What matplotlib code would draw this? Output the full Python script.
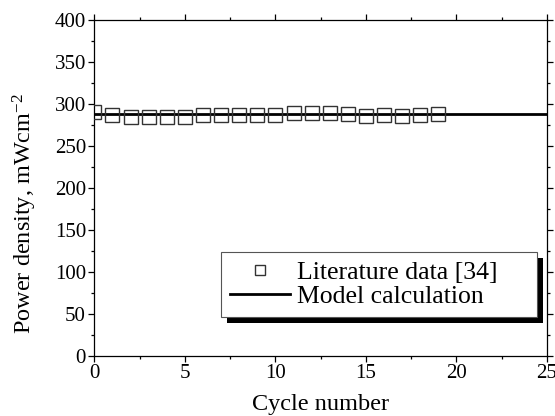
import numpy as np
import matplotlib.pyplot as plt
from matplotlib.patches import Rectangle
from matplotlib.ticker import MultipleLocator

plt.rcParams['font.family'] = ['Liberation Serif', 'DejaVu Serif']
plt.rcParams['mathtext.default'] = 'regular'

cycles = np.arange(0, 20)
lit_power = [290, 287, 285, 284, 285, 284, 287, 287, 287, 287,
             287, 289, 289, 289, 288, 286, 287, 286, 287, 288]
model_x = [0, 25]
model_power = [288, 288]

fig = plt.figure(figsize=(5.55, 4.16), dpi=100)
ax = fig.add_axes([0.170, 0.1442, 0.8156, 0.8078])

ax.plot(cycles, lit_power, ls='none', marker='s', ms=9.5, mfc='none',
        mec='#333333', mew=1.0, label='Literature data [34]', zorder=3)
ax.plot(model_x, model_power, color='black', lw=2.0, label='Model calculation', zorder=2)

ax.set_xlim(0, 25)
ax.set_ylim(0, 400)
ax.xaxis.set_major_locator(MultipleLocator(5))
ax.xaxis.set_minor_locator(MultipleLocator(2.5))
ax.yaxis.set_major_locator(MultipleLocator(50))
ax.yaxis.set_minor_locator(MultipleLocator(25))
ax.tick_params(which='both', direction='out', top=True, right=True,
               labeltop=False, labelright=False, width=0.9, labelsize=15)
ax.tick_params(which='major', length=4.5)
ax.tick_params(which='minor', length=2.5)
ax.tick_params(axis='y', pad=1.5)
ax.tick_params(axis='x', pad=1)
for s in ax.spines.values():
    s.set_linewidth(0.9)

ax.set_xlabel('Cycle number', fontsize=17.5, labelpad=8.5)
ax.set_ylabel('Power density, mWcm$^{-2}$', fontsize=17.5)
ax.yaxis.set_label_coords(-0.123, 0.4226)

leg = ax.legend(loc='lower left', bbox_to_anchor=(0.2796, 0.116, 0.6985, 0.2),
                mode='expand', borderaxespad=0, markerscale=0.75,
                fancybox=False, fontsize=18.5, handlelength=2.33, handletextpad=0.27,
                borderpad=0.35, labelspacing=0.05, framealpha=1, edgecolor='#555555')
leg.get_frame().set_linewidth(0.8)

# offset black shadow behind the legend box
fig.canvas.draw()
bb = leg.get_window_extent().transformed(fig.transFigure.inverted())
dx, dy = 6 / 555, 6 / 416
ax.add_patch(Rectangle((bb.x0 + dx, bb.y0 - dy), bb.width, bb.height,
                       transform=fig.transFigure, facecolor='black',
                       edgecolor='none', zorder=4.5, clip_on=False))

fig.savefig('out.png', dpi=100)
